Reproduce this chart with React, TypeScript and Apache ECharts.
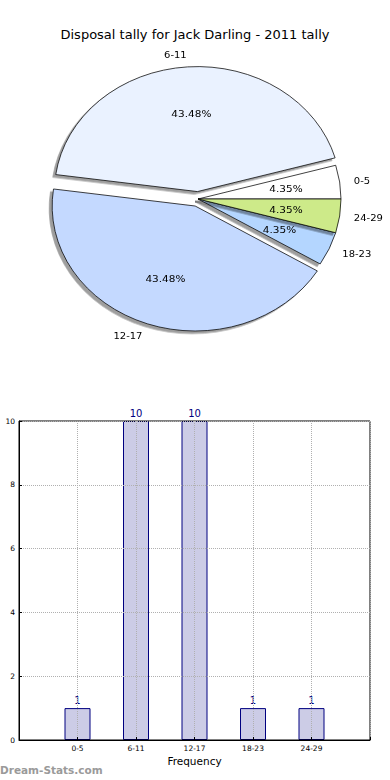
import React, { useEffect, useRef } from 'react';
import * as echarts from 'echarts';

// ---- data ----
const titleText = 'Disposal tally for Jack Darling - 2011 tally';
const categories = ['0-5', '6-11', '12-17', '18-23', '24-29'];
const tally = [1, 10, 10, 1, 1];
const explodedSlices = ['6-11', '12-17'];
const yTickMin = 0;
const yTickMax = 10;
const yTickStep = 2;
const xAxisName = 'Frequency';
const yAxisName = 'Disposal Tally';
const watermark = 'Dream-Stats.com';

// ---- styles ----
const pieColors = ['#ffffff', '#eaf2ff', '#c4d9ff', '#b4d6ff', '#cdea89'];
const FONT = '"DejaVu Sans", Verdana, sans-serif';

// pie geometry (ellipse obtained by vertical scaling of the pie layer)
const RX = 143;
const RY = 125;
const K = RY / RX;
const CX = 198;
const CY_PAGE = 199;
const PIE_H = 420;

export default function App() {
  const mainRef = useRef<HTMLDivElement>(null);
  const pieRef = useRef<HTMLDivElement>(null);

  useEffect(() => {
    document.body.style.margin = '0';
    const main = echarts.init(mainRef.current!, undefined, { renderer: 'svg' });
    const pie = echarts.init(pieRef.current!, undefined, { renderer: 'svg' });

    const total = tally.reduce((a, b) => a + b, 0);
    const cyF = CY_PAGE / K;
    const pieData = categories.map((c, i) => ({
      name: c,
      value: tally[i],
      selected: explodedSlices.includes(c),
      itemStyle: { color: pieColors[i] },
    }));

    pie.setOption({
      animation: false,
      series: [
        {
          type: 'pie',
          center: [CX, cyF],
          radius: RX,
          startAngle: 0,
          clockwise: false,
          selectedMode: 'multiple',
          selectedOffset: 8.5,
          avoidLabelOverlap: false,
          silent: true,
          z: 2,
          data: pieData,
          itemStyle: {
            borderColor: '#000',
            borderWidth: 0.8,
            shadowColor: 'rgba(0,0,0,0.38)',
            shadowOffsetX: -3,
            shadowOffsetY: 3,
            shadowBlur: 0,
          },
          label: {
            show: true,
            position: 'outside',
            formatter: '{b}',
            fontSize: 10,
            color: '#000',
            fontFamily: FONT,
            distanceToLabelLine: 0,
          },
          labelLine: { show: false, length: RX * 0.1, length2: 0 },
          emphasis: { disabled: true },
        },
        {
          type: 'pie',
          center: [CX, cyF],
          radius: RX * 1.2,
          startAngle: 0,
          clockwise: false,
          selectedMode: 'multiple',
          selectedOffset: 8.5,
          avoidLabelOverlap: false,
          silent: true,
          z: 3,
          data: categories.map((c, i) => ({
            name: c,
            value: tally[i],
            selected: explodedSlices.includes(c),
          })),
          itemStyle: { color: 'rgba(0,0,0,0)', borderWidth: 0 },
          label: {
            show: true,
            position: 'inside',
            formatter: (p: any) => ((p.value / total) * 100).toFixed(2) + '%',
            fontSize: 10.5,
            color: '#000',
            fontFamily: FONT,
          },
          labelLine: { show: false },
          emphasis: { disabled: true },
        },
      ],
    });

    main.setOption({
      animation: false,
      title: {
        text: titleText,
        left: 'center',
        top: 23,
        textStyle: { fontFamily: FONT, fontSize: 13, fontWeight: 'normal', color: '#000' },
      },
      grid: {
        left: 19,
        right: 20,
        top: 421,
        bottom: 40,
        show: true,
        z: 3,
        borderColor: '#000',
        borderWidth: 1,
        backgroundColor: 'rgba(0,0,0,0)',
        containLabel: false,
        outerBoundsMode: 'none',
      },
      xAxis: {
        type: 'category',
        data: ['', ...categories, ''],
        boundaryGap: false,
        z: 3,
        axisLine: { show: true, lineStyle: { color: '#000', width: 1 } },
        axisTick: { show: true, inside: true, length: 3, lineStyle: { color: '#000' } },
        axisLabel: { fontSize: 7.5, color: '#000', margin: 4, fontFamily: FONT, interval: 0 },
        splitLine: { show: true, lineStyle: { type: 'dotted', color: '#b0b0b0', width: 1 } },
        name: xAxisName,
        nameLocation: 'middle',
        nameGap: 15,
        nameTextStyle: { fontSize: 10.5, color: '#000', fontFamily: FONT },
      },
      yAxis: {
        type: 'value',
        min: yTickMin,
        max: yTickMax,
        interval: yTickStep,
        z: 3,
        axisLine: { show: true, lineStyle: { color: '#000', width: 1 } },
        axisTick: { show: true, inside: true, length: 3, lineStyle: { color: '#000' } },
        axisLabel: { fontSize: 7.5, color: '#000', margin: 4, fontFamily: FONT },
        splitLine: { show: true, lineStyle: { type: 'dotted', color: '#b0b0b0', width: 1 } },
        name: yAxisName,
        nameLocation: 'middle',
        nameGap: 20,
        nameRotate: 90,
        nameTextStyle: { fontSize: 10.5, color: '#000', fontFamily: FONT },
      },
      series: [
        {
          type: 'bar',
          data: [null, ...tally, null],
          barWidth: 26,
          silent: true,
          itemStyle: { color: '#ccccE6', borderColor: '#000080', borderWidth: 1 },
          label: {
            show: true,
            position: 'top',
            distance: 3,
            color: '#000080',
            fontSize: 10,
            fontFamily: FONT,
          },
        },
      ],
      graphic: [
        {
          type: 'text',
          left: 0,
          top: 764,
          style: {
            text: watermark,
            fill: '#9a9a9a',
            font: 'bold 10.5px "DejaVu Sans", sans-serif',
          },
        },
      ],
    });

    return () => {
      main.dispose();
      pie.dispose();
    };
  }, []);

  return (
    <div style={{ position: 'relative', width: 390, height: 780, overflow: 'hidden', background: '#fff' }}>
      <div ref={mainRef} style={{ position: 'absolute', left: 0, top: 0, width: 390, height: 780 }} />
      <div
        ref={pieRef}
        style={{
          position: 'absolute',
          left: 0,
          top: 0,
          width: 390,
          height: PIE_H,
          transform: `scaleY(${K})`,
          transformOrigin: '0 0',
        }}
      />
    </div>
  );
}
